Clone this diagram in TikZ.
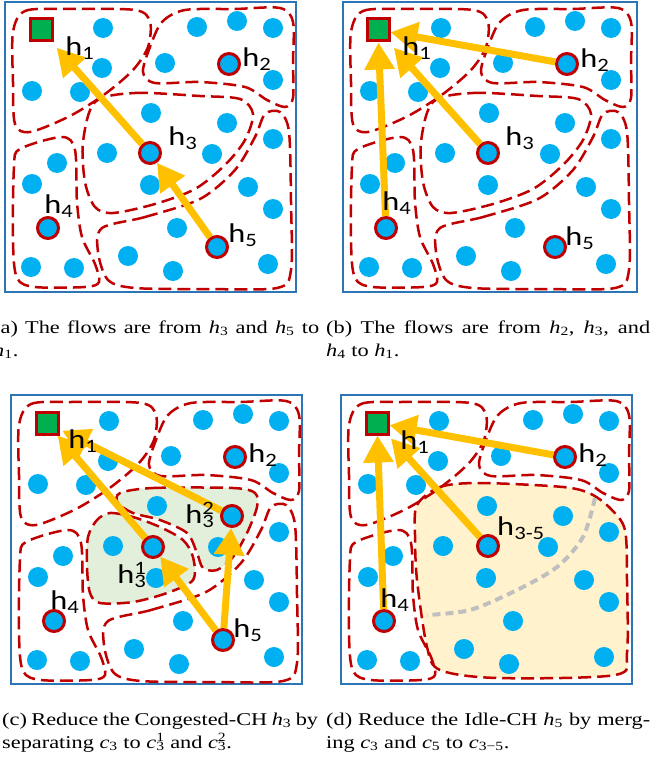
\documentclass[tikz,border=0pt]{standalone}
\usepackage{fontspec}
\setmainfont{Liberation Serif}
\newfontfamily\labelfont{Carlito}
\usepackage{graphicx}
\usetikzlibrary{arrows.meta, positioning}

\definecolor{dotc}{HTML}{00B0F0}
\definecolor{redc}{HTML}{C00000}
\definecolor{sinkc}{HTML}{00B050}
\definecolor{flowc}{HTML}{FFC000}
\definecolor{framec}{HTML}{2E75B6}
\definecolor{splitc}{HTML}{E2EFDA}
\definecolor{mergec}{HTML}{FFF2CC}
\definecolor{oldc}{HTML}{BFBFBF}

% cluster outlines, in the local pixel frame of one panel
\newcommand\cellsink{\draw[cell] plot[smooth cycle] coordinates {(8,30) (20,9) (60,7) (130,8) (145,20) (143,45) (128,68) (100,92) (65,114) (25,130) (10,122) (8,80)};}
\newcommand\celltop{\draw[cell] plot[smooth cycle] coordinates {(145,45) (157,20) (180,8) (230,7) (275,6) (288,20) (288,60) (288,96) (280,105) (262,98) (240,85) (195,80) (150,81) (138,70)};}
\newcommand\cellmid{\draw[cell] plot[smooth cycle] coordinates {(90,100) (130,91) (195,94) (235,97) (248,112) (240,138) (220,163) (190,187) (150,202) (108,211) (90,205) (80,180) (78,140)};}
\newcommand\cellleft{\draw[cell] plot[smooth cycle] coordinates {(15,147) (57,135) (70,148) (72,200) (77,235) (90,262) (94,280) (80,285) (30,285) (12,276) (8,240) (9,165)};}
\newcommand\cellbottom{\draw[cell] plot[smooth cycle] coordinates {(97,226) (140,215) (195,197) (230,168) (250,135) (260,112) (275,110) (284,130) (286,200) (286,268) (272,286) (200,287) (130,286) (103,278) (93,250)};}
\newcommand\alldots{\foreach \dx/\dy in {98/26,192/25,232/19,268/26,97/66,160/61,268/78,27/89,75/90,146/111,222/121,268/137,102/151,207/152,52/161,27/182,145/183,243/185,268/207,172/226,123/254,26/265,69/266,168/269,263/262}
  \fill[dotc] (\dx,\dy) circle (10pt);}
% stretched label and caption text
\newcommand\hl[1]{\scalebox{1.2}[1]{h#1}}
\newcommand\capline[2]{\scalebox{1.24}[1]{\makebox[#1][s]{#2}}}
\newcommand\capend[1]{\scalebox{1.24}[1]{#1}}

\begin{document}
\begin{tikzpicture}[x=1pt, y=-1pt,
  frame/.style={draw=framec, line width=2.5pt},
  cell/.style={draw=redc, line width=2.5pt, dash pattern=on 13pt off 6pt},
  head/.style={circle, draw=redc, line width=3pt, fill=dotc, minimum size=21pt, inner sep=0pt},
  sink/.style={rectangle, draw=redc, line width=3pt, fill=sinkc, minimum size=22pt, inner sep=0pt},
  flow/.style={draw=flowc, line width=7pt, -{Triangle[width=29pt,length=27pt]}},
  hlab/.style={font=\labelfont\fontsize{27}{30}\selectfont, inner sep=0pt},
  capt/.style={font=\fontsize{18}{21}\selectfont, inner sep=0pt, anchor=base west}]
\useasboundingbox (0,0) rectangle (650,760);

% (a) flows from h3 and h5
\begin{scope}[shift={(5,2)}]
\draw[frame] (0,0) rectangle (291,290);
\cellsink \celltop \cellmid \cellleft \cellbottom
\alldots
\node[sink] (sinka) at (36,28) {};
\node[head] (h2a) at (224,62) {};
\node[head] (h3a) at (145,151) {};
\node[head] (h4a) at (43,226) {};
\node[head] (h5a) at (212,245) {};
\draw[flow, shorten >=7pt] (h3a) -- (sinka);
\draw[flow] (h5a) -- (h3a);
\node[hlab] (l1a) at (75,46) {\hl{\textsubscript{1}}};
\node[hlab] (l2a) at (252,57) {\hl{\textsubscript{2}}};
\node[hlab] (l3a) at (178,136) {\hl{\textsubscript{3}}};
\node[hlab] (l4a) at (54,204) {\hl{\textsubscript{4}}};
\node[hlab] (l5a) at (238,233) {\hl{\textsubscript{5}}};
\end{scope}

% (b) flows from h2, h3 and h4
\begin{scope}[shift={(343,2)}]
\draw[frame] (0,0) rectangle (294,290);
\cellsink \celltop \cellmid \cellleft \cellbottom
\alldots
\node[sink] (sinkb) at (35,28) {};
\node[head] (h2b) at (224,62) {};
\node[head] (h3b) at (145,151) {};
\node[head] (h4b) at (43,226) {};
\node[head] (h5b) at (212,245) {};
\draw[flow] (h2b) -- (sinkb);
\draw[flow, shorten >=7pt] (h3b) -- (sinkb);
\draw[flow] (h4b) -- (sinkb);
\node[hlab] (l1b) at (74,46) {\hl{\textsubscript{1}}};
\node[hlab] (l2b) at (252,58) {\hl{\textsubscript{2}}};
\node[hlab] (l3b) at (177,136) {\hl{\textsubscript{3}}};
\node[hlab] (l4b) at (54,201) {\hl{\textsubscript{4}}};
\node[hlab] (l5b) at (237,236) {\hl{\textsubscript{5}}};
\end{scope}

% (c) congested CH split in two
\begin{scope}[shift={(11,395)}]
\draw[frame] (0,0) rectangle (291,289);
\filldraw[cell, fill=splitc] plot[smooth cycle] coordinates {(109,98) (142,93) (222,93) (244,98) (246,112) (236,138) (222,162) (206,175) (192,173) (186,158) (176,138) (149,125) (122,118) (107,108)};
\filldraw[cell, fill=splitc] plot[smooth cycle] coordinates {(86,125) (99,118) (122,122) (149,132) (172,145) (182,162) (182,185) (156,198) (122,207) (89,208) (79,198) (76,172) (77,142)};
\cellsink \celltop \cellleft \cellbottom
\alldots
\node[sink] (sinkc) at (36,28) {};
\node[head] (h2c) at (224,62) {};
\node[head] (h31c) at (142,152) {};
\node[head] (h32c) at (221,121) {};
\node[head] (h4c) at (43,226) {};
\node[head] (h5c) at (212,245) {};
\draw[flow, shorten >=3pt] (h32c) -- (sinkc);
\draw[flow] (h31c) -- (sinkc);
\draw[flow] (h5c) -- (h31c);
\draw[flow] (h5c) -- (h32c);
\node[hlab] (l1c) at (72,46) {\hl{\textsubscript{1}}};
\node[hlab] (l2c) at (252,60) {\hl{\textsubscript{2}}};
\node[hlab] (l32c) at (189,120) {\hl{\rlap{\textsuperscript{2}}\textsubscript{3}}};
\node[hlab] (l31c) at (121,180) {\hl{\rlap{\textsuperscript{1}}\textsubscript{3}}};
\node[hlab] (l4c) at (54,207) {\hl{\textsubscript{4}}};
\node[hlab] (l5c) at (237,235) {\hl{\textsubscript{5}}};
\end{scope}

% (d) idle CH merged into c3-5
\begin{scope}[shift={(341,395)}]
\draw[frame] (0,0) rectangle (291,289);
\filldraw[cell, fill=mergec] plot[smooth cycle] coordinates {(76,110) (99,92) (139,88) (222,92) (250,99) (270,114) (284,135) (286,185) (286,258) (274,280) (156,283) (99,275) (86,252) (76,185) (74,140)};
\draw[oldc, line width=4pt, dash pattern=on 8pt off 5pt] plot[smooth] coordinates {(254,103) (242,142) (216,172) (176,195) (129,215) (86,220)};
\cellsink \celltop \cellleft
\alldots
\node[sink] (sinkd) at (36,28) {};
\node[head] (h2d) at (224,62) {};
\node[head] (h35d) at (147,151) {};
\node[head] (h4d) at (43,226) {};
\draw[flow] (h2d) -- (sinkd);
\draw[flow, shorten >=4pt] (h35d) -- (sinkd);
\draw[flow] (h4d) -- (sinkd);
\node[hlab] (l1d) at (74,47) {\hl{\textsubscript{1}}};
\node[hlab] (l2d) at (252,60) {\hl{\textsubscript{2}}};
\node[hlab] (l35d) at (180,133) {\hl{\textsubscript{3-5}}};
\node[hlab] (l4d) at (54,205) {\hl{\textsubscript{4}}};
\end{scope}

% captions
\node[capt] (capa1) at (-7,333) {\capline{262.9pt}{(a) The flows are from \textit{h}\textsubscript{3} and \textit{h}\textsubscript{5} to}};
\node[capt] (capa2) at (-7,356) {\capend{\textit{h}\textsubscript{1}.}};
\node[capt] (capb1) at (326,333) {\capline{261.3pt}{(b) The flows are from \textit{h}\textsubscript{2}, \textit{h}\textsubscript{3}, and}};
\node[capt] (capb2) at (326,356) {\capend{\textit{h}\textsubscript{4} to \textit{h}\textsubscript{1}.}};
\node[capt] (capc1) at (2,725) {\capline{254.8pt}{(c) Reduce the Congested-CH \textit{h}\textsubscript{3} by}};
\node[capt] (capc2) at (2,748) {\capend{separating \textit{c}\textsubscript{3} to \textit{c}\rlap{\textsuperscript{1}}\textsubscript{3} and \textit{c}\rlap{\textsuperscript{2}}\textsubscript{3}.}};
\node[capt] (capd1) at (326,725) {\capline{261.3pt}{(d) Reduce the Idle-CH \textit{h}\textsubscript{5} by merg-}};
\node[capt] (capd2) at (326,748) {\capend{ing \textit{c}\textsubscript{3} and \textit{c}\textsubscript{5} to \textit{c}\textsubscript{3−5}.}};
\end{tikzpicture}
\end{document}
